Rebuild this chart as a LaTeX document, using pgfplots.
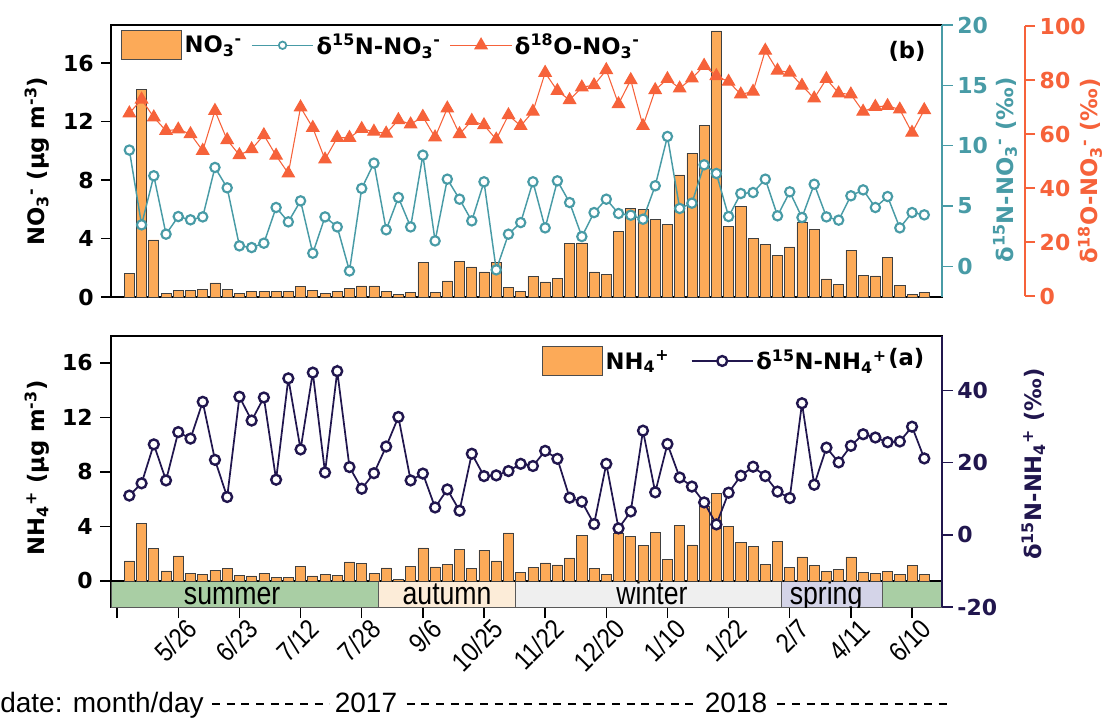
\documentclass[border=0pt]{standalone}
\usepackage{fontspec}
\setmainfont{Liberation Sans}
\newfontfamily\dvs{DejaVu Sans}
\usepackage{graphicx}
\usepackage{pgfplots}
\usepackage{pgfplotstable}
\pgfplotsset{compat=1.18}

\definecolor{barc}{RGB}{252,170,88}
\definecolor{tealc}{RGB}{72,155,166}
\definecolor{orc}{RGB}{246,98,58}
\definecolor{navc}{RGB}{33,22,78}
\definecolor{sumc}{RGB}{169,206,164}
\definecolor{autc}{RGB}{252,236,216}
\definecolor{winc}{RGB}{239,239,239}
\definecolor{sprc}{RGB}{212,212,232}
\newcommand{\BF}{\dvs\bfseries}
\newcommand{\NL}[1]{\scalebox{0.86}[1]{#1}}

\pgfplotstableread{
x no3 dn15 do18 nh4 dnh4
0 1.6 9.63 67.7 1.47 10.9
1 14.2 3.43 72.8 4.22 14.3
2 3.9 7.5 66.2 2.36 25.1
3 0.27 2.66 61.2 0.74 15.1
4 0.46 4.12 61.7 1.84 28.5
5 0.46 3.85 60.0 0.54 26.7
6 0.53 4.09 53.8 0.49 36.9
7 0.96 8.19 68.6 0.79 20.8
8 0.53 6.5 57.8 0.91 10.5
9 0.23 1.69 52.2 0.42 38.3
10 0.41 1.55 54.4 0.37 31.7
11 0.37 1.91 59.6 0.54 38.1
12 0.37 4.87 52.0 0.29 15.3
13 0.41 3.68 45.4 0.29 43.4
14 0.73 5.42 69.9 1.08 23.7
15 0.46 1.08 62.3 0.37 45.0
16 0.23 4.09 50.6 0.49 17.3
17 0.41 3.26 58.6 0.42 45.4
18 0.6 -0.39 58.6 1.4 18.8
19 0.76 6.45 61.9 1.28 12.8
20 0.76 8.55 60.9 0.54 17.1
21 0.41 3.02 60.2 0.96 24.5
22 0.16 5.7 65.2 0.1 32.7
23 0.3 3.26 63.6 1.08 15.1
24 2.38 9.21 66.4 2.43 17.0
25 0.3 2.1 58.8 1.03 7.6
26 1.1 7.22 69.5 1.2 12.6
27 2.43 5.56 60.0 2.31 6.7
28 2.06 3.76 64.9 0.91 22.5
29 1.72 7.0 63.3 2.26 16.3
30 2.38 -0.3 58.0 1.47 16.5
31 0.64 2.66 67.0 3.53 17.7
32 0.41 3.62 63.0 0.6 19.7
33 1.42 7.0 68.3 1.0 19.1
34 1.03 3.18 82.7 1.33 23.3
35 1.26 7.08 76.0 1.18 21.1
36 3.66 5.28 72.6 1.69 10.3
37 3.7 2.46 77.3 3.34 9.2
38 1.72 4.45 78.1 0.91 3.0
39 1.56 5.56 83.7 0.49 19.7
40 4.5 4.37 71.1 3.48 1.8
41 6.04 4.23 80.0 3.26 6.5
42 6.0 3.9 63.0 2.6 28.9
43 5.3 6.67 76.3 3.56 11.8
44 4.99 10.76 80.4 1.57 25.2
45 8.35 4.79 76.9 4.07 15.9
46 9.84 5.23 80.6 2.65 13.4
47 11.76 8.41 85.3 5.45 9.0
48 18.2 7.69 81.5 6.43 2.9
49 4.85 4.12 79.4 3.98 11.7
50 6.22 6.03 74.7 2.8 16.4
51 4.0 6.11 75.7 2.55 18.9
52 3.6 7.22 90.9 1.2 16.3
53 2.86 4.18 83.5 2.9 12.0
54 3.43 6.17 82.8 1.0 10.2
55 5.08 4.04 77.9 1.77 36.5
56 4.62 6.8 73.2 1.13 13.9
57 1.24 4.09 80.4 0.69 24.2
58 0.85 3.82 75.1 0.83 20.1
59 3.2 5.84 74.7 1.77 24.7
60 1.49 6.33 68.3 0.64 27.9
61 1.44 4.87 70.1 0.54 27.0
62 2.68 5.78 70.4 0.69 25.7
63 0.8 3.18 69.1 0.49 25.9
64 0.18 4.45 60.5 1.13 30.0
65 0.32 4.26 68.9 0.49 21.2
}\datatab

\pgfplotsset{
  base/.style={scale only axis, width=623.25pt, xmin=-1.5, xmax=66.45,
    anchor=south west,
    /pgf/number format/assume math mode=true,
    tick align=outside,
    axis line style={line width=1.1pt},
    tick style={line width=1.1pt, black},
    major tick length=7.5pt,
    ticklabel style={font=\BF\fontsize{16.5}{18}\selectfont},
    label style={font=\BF\fontsize{17}{20}\selectfont},
    legend style={draw=none, fill=none, font=\BF\fontsize{17}{20}\selectfont,
      legend cell align=left},
    legend columns=-1,
    legend image code/.code={\draw[mark repeat=2,mark phase=2,##1] plot coordinates {(0pt,0pt) (23pt,0pt) (46pt,0pt)};},
  },
  barleg/.style={legend image code/.code={\draw[fill=barc,draw=black!70,line width=0.5pt] (0pt,-10.5pt) rectangle (45pt,11pt);}},
}

\begin{document}
\begin{tikzpicture}
\useasboundingbox (0pt,0pt) rectangle (829.5pt,-540pt);

% ---------- top panel: NO3 bars ----------
\begin{axis}[base, at={(83.25pt,-222.75pt)}, height=204pt,
  ymin=0, ymax=18.6, ytick={0,4,8,12,16}, xtick=\empty, ytick pos=left,
  yticklabel style={xshift=-2pt},
  ylabel={NO\textsubscript{3}\textsuperscript{-} (μg m\textsuperscript{-3})},
  ylabel style={at={(axis description cs:-0.089,0.5)}, anchor=center}]
\addplot[ybar, bar width=0.82, bar shift=0pt, fill=barc, draw=black!75, line width=0.5pt] table[x=x,y=no3] {\datatab};
\end{axis}

% ---------- top panel: d15N-NO3 ----------
\begin{axis}[base, at={(83.25pt,-222.75pt)}, height=204pt,
  ymin=-2.55, ymax=20, hide x axis, axis y line*=right, ytick={0,5,10,15,20},
  axis line style={tealc, line width=1.1pt}, tick style={tealc, line width=1.1pt},
  major tick length=8pt,
  yticklabel style={text=tealc},
  ylabel={δ\textsuperscript{15}N-NO\textsubscript{3}\textsuperscript{-} (‰)},
  ylabel style={text=tealc, at={(axis description cs:1.076,0.467)}, anchor=center}]
\addplot[tealc, line width=1.1pt, mark=*, mark size=3.5pt, mark options={fill=white, line width=1.6pt}] table[x=x,y=dn15] {\datatab};
\node[font=\BF\fontsize{17}{20}\selectfont] at (axis description cs:0.958,0.904) {(b)};
\end{axis}

% ---------- top panel: d18O-NO3 ----------
\begin{axis}[base, at={(83.25pt,-222pt)}, width=685.5pt, height=202.5pt,
  xmin=-1.5, xmax=73.24, ymin=0, ymax=100, hide x axis, axis y line*=right,
  ytick={0,20,40,60,80,100},
  axis line style={orc, line width=1.1pt}, tick style={orc, line width=1.1pt},
  yticklabel style={text=orc},
  ylabel={δ\textsuperscript{18}O-NO\textsubscript{3}\textsuperscript{-} (‰)},
  ylabel style={text=orc, at={(axis description cs:1.071,0.463)}, anchor=center},
  legend style={at={(axis description cs:0.0066,0.995)}, anchor=north west,
    /tikz/every even column/.append style={column sep=5pt}}]
\addlegendimage{barleg}
\addlegendentry{NO\textsubscript{3}\textsuperscript{-}}
\addlegendimage{tealc, line width=1.1pt, mark=*, mark size=2.8pt, mark options={fill=white, line width=1.3pt}}
\addlegendentry{δ\textsuperscript{15}N-NO\textsubscript{3}\textsuperscript{-}}
\addplot[orc, line width=0.8pt, mark=triangle*, mark size=5.3pt, mark options={fill=orc}] table[x=x,y=do18] {\datatab};
\addlegendentry{δ\textsuperscript{18}O-NO\textsubscript{3}\textsuperscript{-}}
\end{axis}

% ---------- bottom panel: NH4 bars ----------
\begin{axis}[base, at={(83.25pt,-455.25pt)}, height=203.25pt,
  ymin=-1.91, ymax=17.98, ytick={0,4,8,12,16}, ytick pos=left,
  yticklabel style={xshift=-2pt},
  xtick={-1,4,...,64},
  xticklabels={,\NL{5/26},\NL{6/23},\NL{7/12},\NL{7/28},\NL{9/6},\NL{10/25},\NL{11/22},\NL{12/20},\NL{1/10},\NL{1/22},\NL{2/7},\NL{4/11},\NL{6/10}},
  xtick pos=bottom,
  major tick length=8.25pt,
  xticklabel style={font=\fontsize{20.5}{22}\selectfont, rotate=45, anchor=north east, inner sep=1pt, xshift=5pt, yshift=-2pt},
  ylabel={NH\textsubscript{4}\textsuperscript{+} (μg m\textsuperscript{-3})},
  ylabel style={at={(axis description cs:-0.089,0.513)}, anchor=center}]
\filldraw[fill=sumc, draw=black!65, line width=0.7pt] (axis cs:-1.5,-1.91) rectangle (axis cs:20.36,0);
\filldraw[fill=autc, draw=black!65, line width=0.7pt] (axis cs:20.36,-1.91) rectangle (axis cs:31.54,0);
\filldraw[fill=winc, draw=black!65, line width=0.7pt] (axis cs:31.54,-1.91) rectangle (axis cs:53.29,0);
\filldraw[fill=sprc, draw=black!65, line width=0.7pt] (axis cs:53.29,-1.91) rectangle (axis cs:61.57,0);
\filldraw[fill=sumc, draw=black!65, line width=0.7pt] (axis cs:61.57,-1.91) rectangle (axis cs:66.45,0);
\draw[black, line width=1.1pt] (axis cs:-1.5,0) -- (axis cs:66.45,0);
\node[anchor=base, inner sep=0pt, font=\fontsize{20}{22}\selectfont] at (axis cs:8.4,-1.69) {\scalebox{1}[1.2]{summer}};
\node[anchor=base, inner sep=0pt, font=\fontsize{20}{22}\selectfont] at (axis cs:25.98,-1.69) {\scalebox{1}[1.2]{autumn}};
\node[anchor=base, inner sep=0pt, font=\fontsize{20}{22}\selectfont] at (axis cs:42.74,-1.69) {\scalebox{1}[1.2]{winter}};
\node[anchor=base, inner sep=0pt, font=\fontsize{20}{22}\selectfont] at (axis cs:56.97,-1.69) {\scalebox{1}[1.2]{spring}};
\addplot[ybar, bar width=0.82, bar shift=0pt, fill=barc, draw=black!75, line width=0.5pt] table[x=x,y=nh4] {\datatab};
\end{axis}

% ---------- bottom panel: d15N-NH4 ----------
\begin{axis}[base, at={(83.25pt,-455.25pt)}, height=203.25pt,
  ymin=-20, ymax=55.15, hide x axis, axis y line*=right, ytick={-20,0,20,40},
  axis line style={navc, line width=1.1pt}, tick style={navc, line width=1.1pt},
  major tick length=8pt,
  yticklabel style={text=navc},
  ylabel={δ\textsuperscript{15}N-NH\textsubscript{4}\textsuperscript{+} (‰)},
  ylabel style={text=navc, at={(axis description cs:1.11,0.528)}, anchor=center},
  legend style={at={(axis description cs:0.514,0.974)}, anchor=north west,
    /tikz/every even column/.append style={column sep=14pt}}]
\addlegendimage{barleg}
\addlegendentry{NH\textsubscript{4}\textsuperscript{+}}
\addplot[navc, line width=1.3pt, mark=*, mark size=3.7pt, mark options={fill=white, line width=1.8pt}] table[x=x,y=dnh4] {\datatab};
\addlegendentry{δ\textsuperscript{15}N-NH\textsubscript{4}\textsuperscript{+}}
\node[font=\BF\fontsize{17}{20}\selectfont] at (axis description cs:0.957,0.919) {(a)};
\end{axis}

% ---------- date line ----------
\node[anchor=base west, inner sep=0pt, font=\fontsize{21}{24}\selectfont] at (0pt,-534pt) {date: month/day};
\node[anchor=base, inner sep=0pt, font=\fontsize{21}{24}\selectfont] at (274.5pt,-534pt) {2017};
\node[anchor=base, inner sep=0pt, font=\fontsize{21}{24}\selectfont] at (552pt,-534pt) {2018};
\draw[dash pattern=on 6pt off 5pt, line width=1.1pt] (159pt,-528pt) -- (247pt,-528pt);
\draw[dash pattern=on 6pt off 5pt, line width=1.1pt] (305pt,-528pt) -- (524pt,-528pt);
\draw[dash pattern=on 6pt off 5pt, line width=1.1pt] (583pt,-528pt) -- (711pt,-528pt);
\end{tikzpicture}
\end{document}
